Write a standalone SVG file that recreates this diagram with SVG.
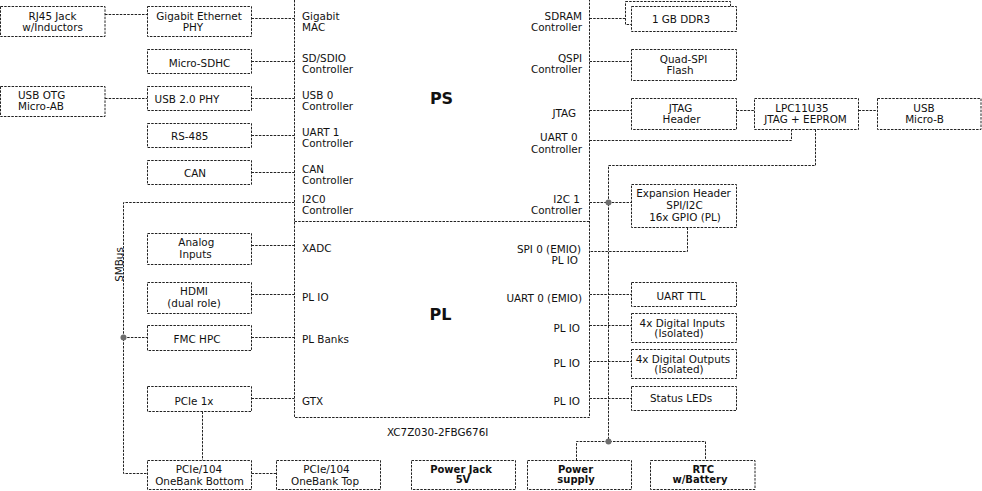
<svg xmlns="http://www.w3.org/2000/svg" width="982" height="491" viewBox="0 0 982 491">
  <style>
    .box { fill: #fff; stroke: #222; stroke-width: 1; stroke-dasharray: 2.5 1.2; }
    .wire { fill: none; stroke: #222; stroke-width: 1; stroke-dasharray: 2.5 1.2; }
    .dot { fill: #6e6e6e; }
    text { font-family: "DejaVu Sans", "Liberation Sans", sans-serif; font-size: 10.4px; fill: #111; }
    .c { text-anchor: middle; }
    .e { text-anchor: end; }
    .b { font-weight: bold; font-size: 10px; }
    .big { font-weight: bold; font-size: 16px; text-anchor: middle; }
  </style>

  <!-- connectors -->
  <g id="connectors">
    <path class="wire" d="M105,14.5 H147.5"/>
    <path class="wire" d="M251.5,18.5 H294.5"/>
    <path class="wire" d="M251.5,61.5 H294.5"/>
    <path class="wire" d="M105,98.5 H147.5"/>
    <path class="wire" d="M251.5,98.5 H294.5"/>
    <path class="wire" d="M251.5,135.5 H294.5"/>
    <path class="wire" d="M251.5,172.5 H294.5"/>
    <path class="wire" d="M294.5,202.5 H123.5 V473.5 H147.5"/>
    <path class="wire" d="M251.5,245.5 H294.5"/>
    <path class="wire" d="M251.5,294.5 H294.5"/>
    <path class="wire" d="M123.5,337.5 H147.5"/>
    <path class="wire" d="M251.5,337.5 H294.5"/>
    <path class="wire" d="M251.5,398.5 H294.5"/>
    <path class="wire" d="M202.5,411.5 V460.5"/>
    <path class="wire" d="M251.5,473.5 H276.5"/>
    <path class="wire" d="M589.5,18.5 H625.5"/>
    <path class="wire" d="M589.5,61.5 H631.5"/>
    <path class="wire" d="M589.5,110.5 H631.5"/>
    <path class="wire" d="M736.5,110.5 H754.5"/>
    <path class="wire" d="M858.5,110.5 H877.5"/>
    <path class="wire" d="M589.5,140.5 H791.5 V129.5"/>
    <path class="wire" d="M815.5,129.5 V165.5 H608.5 V441.5"/>
    <path class="wire" d="M576.5,460.5 V441.5 H705.5 V460.5"/>
    <path class="wire" d="M589.5,202.5 H631.5"/>
    <path class="wire" d="M687.5,227.5 V251.5 H589.5"/>
    <path class="wire" d="M589.5,294.5 H631.5"/>
    <path class="wire" d="M589.5,325.5 H631.5"/>
    <path class="wire" d="M589.5,361.5 H631.5"/>
    <path class="wire" d="M589.5,398.5 H631.5"/>
    <circle class="dot" cx="123.5" cy="337.5" r="3"/>
    <circle class="dot" cx="608.5" cy="202.5" r="3"/>
    <circle class="dot" cx="608.5" cy="441.5" r="3"/>
    <text transform="translate(123,264.5) rotate(-90)" class="c">SMBus</text>
  </g>

  <!-- SoC -->
  <g id="soc">
    <rect class="box" x="294.5" y="-2" width="295" height="419.5"/>
    <path class="wire" d="M294.5,221.5 H589.5"/>
    <text class="big" x="441.5" y="104">PS</text>
    <text class="big" x="440.5" y="320">PL</text>
    <text x="302" y="20">Gigabit</text><text x="302" y="31">MAC</text>
    <text x="302" y="62">SD/SDIO</text><text x="302" y="73">Controller</text>
    <text x="302" y="99">USB 0</text><text x="302" y="110">Controller</text>
    <text x="302" y="136">UART 1</text><text x="302" y="147">Controller</text>
    <text x="302" y="172.5">CAN</text><text x="302" y="184">Controller</text>
    <text x="302" y="203">I2C0</text><text x="302" y="214">Controller</text>
    <text x="302" y="251.5">XADC</text>
    <text x="302" y="301">PL IO</text>
    <text x="302" y="343">PL Banks</text>
    <text x="302" y="405">GTX</text>
    <text class="e" x="582" y="20">SDRAM</text><text class="e" x="582" y="31">Controller</text>
    <text class="e" x="582" y="62">QSPI</text><text class="e" x="582" y="73">Controller</text>
    <text class="e" x="576" y="117">JTAG</text>
    <text class="e" x="577.5" y="141">UART 0</text><text class="e" x="582" y="153">Controller</text>
    <text class="e" x="580" y="203">I2C 1</text><text class="e" x="582" y="214">Controller</text>
    <text class="e" x="581" y="253">SPI 0 (EMIO)</text><text class="e" x="578" y="263.5">PL IO</text>
    <text class="e" x="582" y="301.5">UART 0 (EMIO)</text>
    <text class="e" x="580" y="331.5">PL IO</text>
    <text class="e" x="580" y="366.5">PL IO</text>
    <text class="e" x="580" y="405">PL IO</text>
    <text x="387" y="436">XC7Z030-2FBG676I</text>
  </g>

  <!-- left side -->
  <g id="rj45"><rect class="box" x="0.5" y="6.5" width="104.5" height="30"/>
    <text class="c" x="52.5" y="20">RJ45 Jack</text><text class="c" x="52.5" y="30.7">w/Inductors</text></g>
  <g id="gbe-phy"><rect class="box" x="147.5" y="6.5" width="104" height="30"/>
    <text class="c" x="199" y="20">Gigabit Ethernet</text><text class="c" x="193" y="30.7">PHY</text></g>
  <g id="sdhc"><rect class="box" x="147.5" y="49.5" width="104" height="24"/>
    <text class="c" x="199.5" y="66.5">Micro-SDHC</text></g>
  <g id="usb-otg"><rect class="box" x="0.5" y="86.5" width="104.5" height="30"/>
    <text x="18" y="99.3">USB OTG</text><text x="18" y="110">Micro-AB</text></g>
  <g id="usb-phy"><rect class="box" x="147.5" y="86.5" width="104" height="24"/>
    <text class="c" x="187" y="103">USB 2.0 PHY</text></g>
  <g id="rs485"><rect class="box" x="147.5" y="123.5" width="104" height="24"/>
    <text class="c" x="189.7" y="140">RS-485</text></g>
  <g id="can"><rect class="box" x="147.5" y="160.5" width="104" height="24"/>
    <text class="c" x="195" y="177">CAN</text></g>
  <g id="analog"><rect class="box" x="147.5" y="233.5" width="104" height="31"/>
    <text class="c" x="196.3" y="246">Analog</text><text class="c" x="195.5" y="257.5">Inputs</text></g>
  <g id="hdmi"><rect class="box" x="147.5" y="282.5" width="104" height="31"/>
    <text class="c" x="194" y="295">HDMI</text><text class="c" x="194" y="306.5">(dual role)</text></g>
  <g id="fmc"><rect class="box" x="147.5" y="325.5" width="104" height="25"/>
    <text class="c" x="197" y="343">FMC HPC</text></g>
  <g id="pcie1x"><rect class="box" x="147.5" y="386.5" width="104" height="25"/>
    <text class="c" x="194" y="404.5">PCIe 1x</text></g>
  <g id="pcie104-bottom"><rect class="box" x="147.5" y="460.5" width="104" height="29"/>
    <text class="c" x="199" y="472.5">PCIe/104</text><text class="c" x="199.5" y="484.5">OneBank Bottom</text></g>
  <g id="pcie104-top"><rect class="box" x="276.5" y="460.5" width="104" height="29"/>
    <text class="c" x="326.5" y="472.5">PCIe/104</text><text class="c" x="325" y="484.5">OneBank Top</text></g>

  <!-- right side -->
  <g id="ddr3">
    <rect class="box" x="625.5" y="1.5" width="105" height="23"/>
    <rect class="box" x="631.5" y="6.5" width="105" height="25"/>
    <text class="c" x="681" y="23.3">1 GB DDR3</text></g>
  <g id="qspi-flash"><rect class="box" x="631.5" y="49.5" width="105" height="31"/>
    <text class="c" x="683.5" y="63.3">Quad-SPI</text><text class="c" x="680" y="73.5">Flash</text></g>
  <g id="jtag-header"><rect class="box" x="631.5" y="98.5" width="105" height="31"/>
    <text class="c" x="680.5" y="111.7">JTAG</text><text class="c" x="681.5" y="122.7">Header</text></g>
  <g id="lpc11u35"><rect class="box" x="754.5" y="98.5" width="104" height="31"/>
    <text class="c" x="802" y="111.7">LPC11U35</text><text class="c" x="805.5" y="122.7">JTAG + EEPROM</text></g>
  <g id="usb-micro-b"><rect class="box" x="877.5" y="98.5" width="103.5" height="31"/>
    <text class="c" x="924" y="111.7">USB</text><text class="c" x="924.5" y="122.7">Micro-B</text></g>
  <g id="expansion"><rect class="box" x="631.5" y="184.5" width="105" height="43"/>
    <text class="c" x="683.5" y="196.7">Expansion Header</text><text class="c" x="684.5" y="208.7">SPI/I2C</text><text class="c" x="685" y="220.5">16x GPIO (PL)</text></g>
  <g id="uart-ttl"><rect class="box" x="631.5" y="282.5" width="105" height="24"/>
    <text class="c" x="681" y="300">UART TTL</text></g>
  <g id="digital-in"><rect class="box" x="631.5" y="313.5" width="105" height="29"/>
    <text class="c" x="682.3" y="326.5">4x Digital Inputs</text><text class="c" x="679" y="337.3">(Isolated)</text></g>
  <g id="digital-out"><rect class="box" x="631.5" y="349.5" width="105" height="29"/>
    <text class="c" x="683" y="362.5">4x Digital Outputs</text><text class="c" x="679" y="373.3">(Isolated)</text></g>
  <g id="status-leds"><rect class="box" x="631.5" y="386.5" width="105" height="24"/>
    <text class="c" x="681" y="402">Status LEDs</text></g>

  <!-- power -->
  <g id="power-jack"><rect class="box" x="411.5" y="460.5" width="104" height="29"/>
    <text class="c b" x="461" y="472.5">Power Jack</text><text class="c b" x="463" y="483.3">5V</text></g>
  <g id="power-supply"><rect class="box" x="527.5" y="460.5" width="104" height="29"/>
    <text class="c b" x="575.5" y="472.5">Power</text><text class="c b" x="576" y="483.3">supply</text></g>
  <g id="rtc"><rect class="box" x="650.5" y="460.5" width="104.5" height="29"/>
    <text class="c b" x="703.3" y="472.5">RTC</text><text class="c b" x="700" y="483.3">w/Battery</text></g>
</svg>
